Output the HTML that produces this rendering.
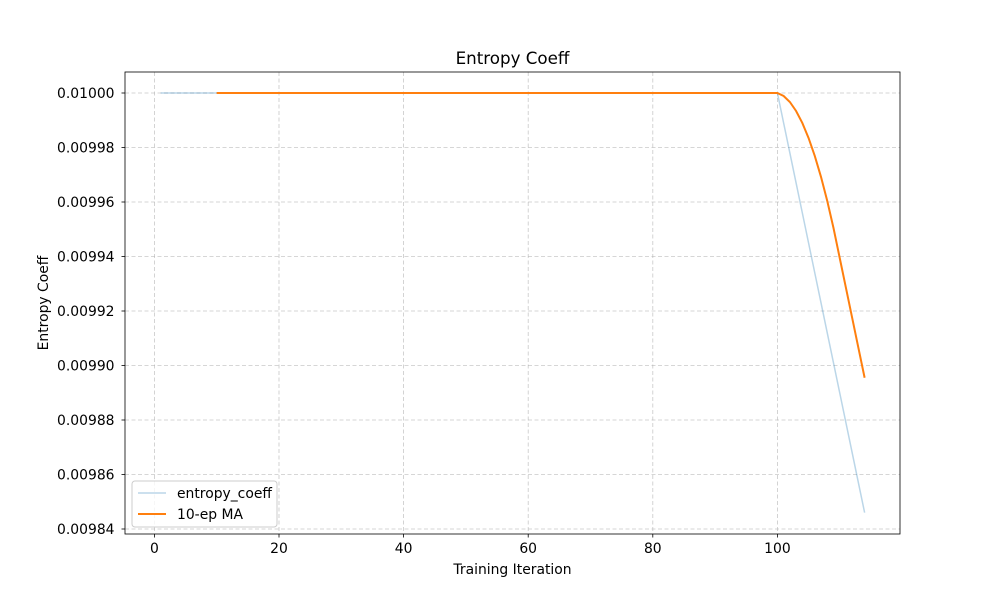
<!DOCTYPE html>
<html><head><meta charset="utf-8"><style>
body{margin:0;background:#fff;}
svg text{font-family:"DejaVu Sans","Liberation Sans",sans-serif;}
</style></head><body>
<svg id="chart" width="1000" height="600" xmlns="http://www.w3.org/2000/svg">
<rect width="1000" height="600" fill="#fff"/>
<text x="512.5" y="64" font-size="16.7" text-anchor="middle">Entropy Coeff</text>
<g id="grid"></g>
<g id="series"></g>
<rect x="125" y="72" width="775" height="462" fill="none" stroke="#000" stroke-width="0.8"/>
<g id="ticks"></g>
<text x="512.5" y="574" font-size="13.9" text-anchor="middle">Training Iteration</text>
<text transform="translate(48,303) rotate(-90)" font-size="13.9" text-anchor="middle">Entropy Coeff</text>
<g>
<rect x="132" y="481" width="145" height="46" rx="3" fill="#fff" fill-opacity="0.8" stroke="#ccc"/>
<line x1="138" y1="493" x2="166" y2="493" stroke="#1f77b4" stroke-opacity="0.3" stroke-width="1.5"/>
<text x="177" y="498" font-size="13.9">entropy_coeff</text>
<line x1="138" y1="514" x2="166" y2="514" stroke="#ff7f0e" stroke-width="2"/>
<text x="177" y="519" font-size="13.9">10-ep MA</text>
</g>
</svg>
<script>
const rawValues = [
0.01,0.01,0.01,0.01,0.01,0.01,0.01,0.01,0.01,0.01,
0.01,0.01,0.01,0.01,0.01,0.01,0.01,0.01,0.01,0.01,
0.01,0.01,0.01,0.01,0.01,0.01,0.01,0.01,0.01,0.01,
0.01,0.01,0.01,0.01,0.01,0.01,0.01,0.01,0.01,0.01,
0.01,0.01,0.01,0.01,0.01,0.01,0.01,0.01,0.01,0.01,
0.01,0.01,0.01,0.01,0.01,0.01,0.01,0.01,0.01,0.01,
0.01,0.01,0.01,0.01,0.01,0.01,0.01,0.01,0.01,0.01,
0.01,0.01,0.01,0.01,0.01,0.01,0.01,0.01,0.01,0.01,
0.01,0.01,0.01,0.01,0.01,0.01,0.01,0.01,0.01,0.01,
0.01,0.01,0.01,0.01,0.01,0.01,0.01,0.01,0.01,0.01,
0.009989,0.009978,0.009967,0.009956,0.009945,0.009934,0.009923,
0.009912,0.009901,0.009890,0.009879,0.009868,0.009857,0.009846];
const firstIteration = 1;
const maWindow = 10;
const xTicks = [0,20,40,60,80,100];
const yTicks = [0.00984,0.00986,0.00988,0.00990,0.00992,0.00994,0.00996,0.00998,0.01000];
const yTickLabels = ["0.00984","0.00986","0.00988","0.00990","0.00992","0.00994","0.00996","0.00998","0.01000"];

const NS="http://www.w3.org/2000/svg";
const X = v => 154.4 + v*(124.6/20);
const Y = v => 93 + (0.01 - v)*(54.5/0.00002);
function mk(tag, attrs, parent){const e=document.createElementNS(NS,tag);for(const k in attrs)e.setAttribute(k,attrs[k]);parent.appendChild(e);return e;}
const grid=document.getElementById('grid'), ticks=document.getElementById('ticks'), series=document.getElementById('series');
xTicks.forEach(t=>{
  const g=mk('line',{x1:X(t),x2:X(t),y1:72,y2:534,stroke:'#b0b0b0','stroke-opacity':0.7,'stroke-dasharray':'4,2.5','stroke-width':0.8},grid);
  
  
  const tk=mk('line',{x1:X(t),x2:X(t),y1:534,y2:537.5,stroke:'#000','stroke-width':0.8},ticks);
  
  
  const tx=mk('text',{x:X(t),y:553,'font-size':13.9,'text-anchor':'middle'},ticks);
  tx.textContent=t;
  
  
});
yTicks.forEach((t,i)=>{
  const g=mk('line',{x1:125,x2:900,y1:Y(t),y2:Y(t),stroke:'#b0b0b0','stroke-opacity':0.7,'stroke-dasharray':'4,2.5','stroke-width':0.8},grid);
  
  
  const tk=mk('line',{x1:121.5,x2:125,y1:Y(t),y2:Y(t),stroke:'#000','stroke-width':0.8},ticks);
  
  
  const tx=mk('text',{x:114.5,y:Y(t)+5,'font-size':13.9,'text-anchor':'end'},ticks);
  tx.textContent=yTickLabels[i];
  
  
});
const rawPts=rawValues.map((v,i)=>X(firstIteration+i)+','+Y(v)).join(' ');
const raw=mk('polyline',{points:rawPts,fill:'none',stroke:'#1f77b4','stroke-opacity':0.3,'stroke-width':1.5},series);


const maPts=[];
for(let i=maWindow-1;i<rawValues.length;i++){
  let s=0;for(let j=i-maWindow+1;j<=i;j++)s+=rawValues[j];
  maPts.push(X(firstIteration+i)+','+Y(s/maWindow));
}
const ma=mk('polyline',{points:maPts.join(' '),fill:'none',stroke:'#ff7f0e','stroke-width':2},series);


</script>
</body></html>
